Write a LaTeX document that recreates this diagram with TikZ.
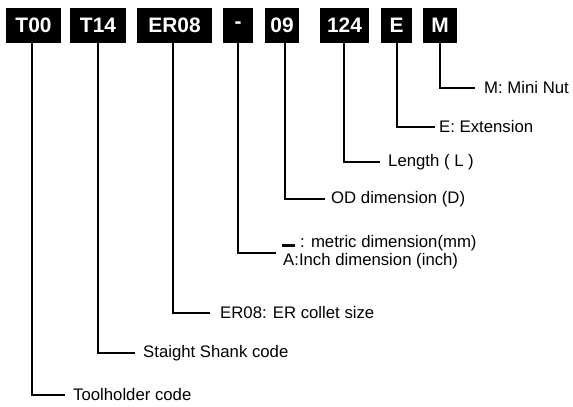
\documentclass[tikz,border=0pt]{standalone}
\usepackage{fontspec}
\setmainfont{Liberation Sans}
\begin{document}
\begin{tikzpicture}[x=1bp,y=-1bp,
  codebox/.style={fill=black,text=white,font=\bfseries\fontsize{21}{22}\selectfont,minimum height=35bp,inner sep=0},
  lab/.style={anchor=west,inner sep=0,font=\fontsize{16.8}{19}\selectfont},
  conn/.style={line width=1.3bp}]
\useasboundingbox (0,0) rectangle (573,406);
% code boxes
\node[codebox,minimum width=55bp] (b1) at (33.5,25.5) {T00};
\node[codebox,minimum width=56bp] (b2) at (98,25.5) {T14};
\node[codebox,minimum width=75bp] (b3) at (174.5,25.5) {ER08};
\node[codebox,minimum width=30bp] (b4) at (238,25.5) {-};
\node[codebox,minimum width=34bp] (b5) at (282,25.5) {09};
\node[codebox,minimum width=49bp] (b6) at (344.5,25.5) {124};
\node[codebox,minimum width=31bp] (b7) at (396.5,25.5) {E};
\node[codebox,minimum width=34bp] (b8) at (440,25.5) {M};
% labels
\node[lab] (lM) at (484,88) {M: Mini Nut};
\node[lab] (lE) at (439,127) {E: Extension};
\node[lab] (lL) at (388,162) {Length ( L )};
\node[lab] (lD) at (331,199) {OD dimension (D)};
\node[lab] (lm1) at (282,243) {\raisebox{0.5bp}{\rule{13bp}{3.2bp}}\hspace{5bp}: metric dimension(mm)};
\node[lab] (lm2) at (283,261) {A:Inch dimension (inch)};
\node[lab] (lER) at (220,313) {ER08: ER collet size};
\node[lab] (lS) at (143,353) {Staight Shank code};
\node[lab] (lT) at (73,395) {Toolholder code};
\coordinate (eM) at (276,253);
% connectors
\draw[conn] (b8.south) |- ([xshift=-9bp]lM.west);
\draw[conn] ([xshift=0.5bp]b7.south) |- ([xshift=-4bp]lE.west);
\draw[conn] ([xshift=-0.5bp]b6.south) |- ([xshift=-8bp]lL.west);
\draw[conn] ([xshift=3bp]b5.south) |- ([xshift=-6bp]lD.west);
\draw[conn] (b4.south) |- (eM);
\draw[conn] ([xshift=-1.5bp]b3.south) |- ([xshift=-10bp]lER.west);
\draw[conn] (b2.south) |- ([xshift=-8bp]lS.west);
\draw[conn] ([xshift=-1.5bp]b1.south) |- ([xshift=-8bp]lT.west);
\end{tikzpicture}
\end{document}
